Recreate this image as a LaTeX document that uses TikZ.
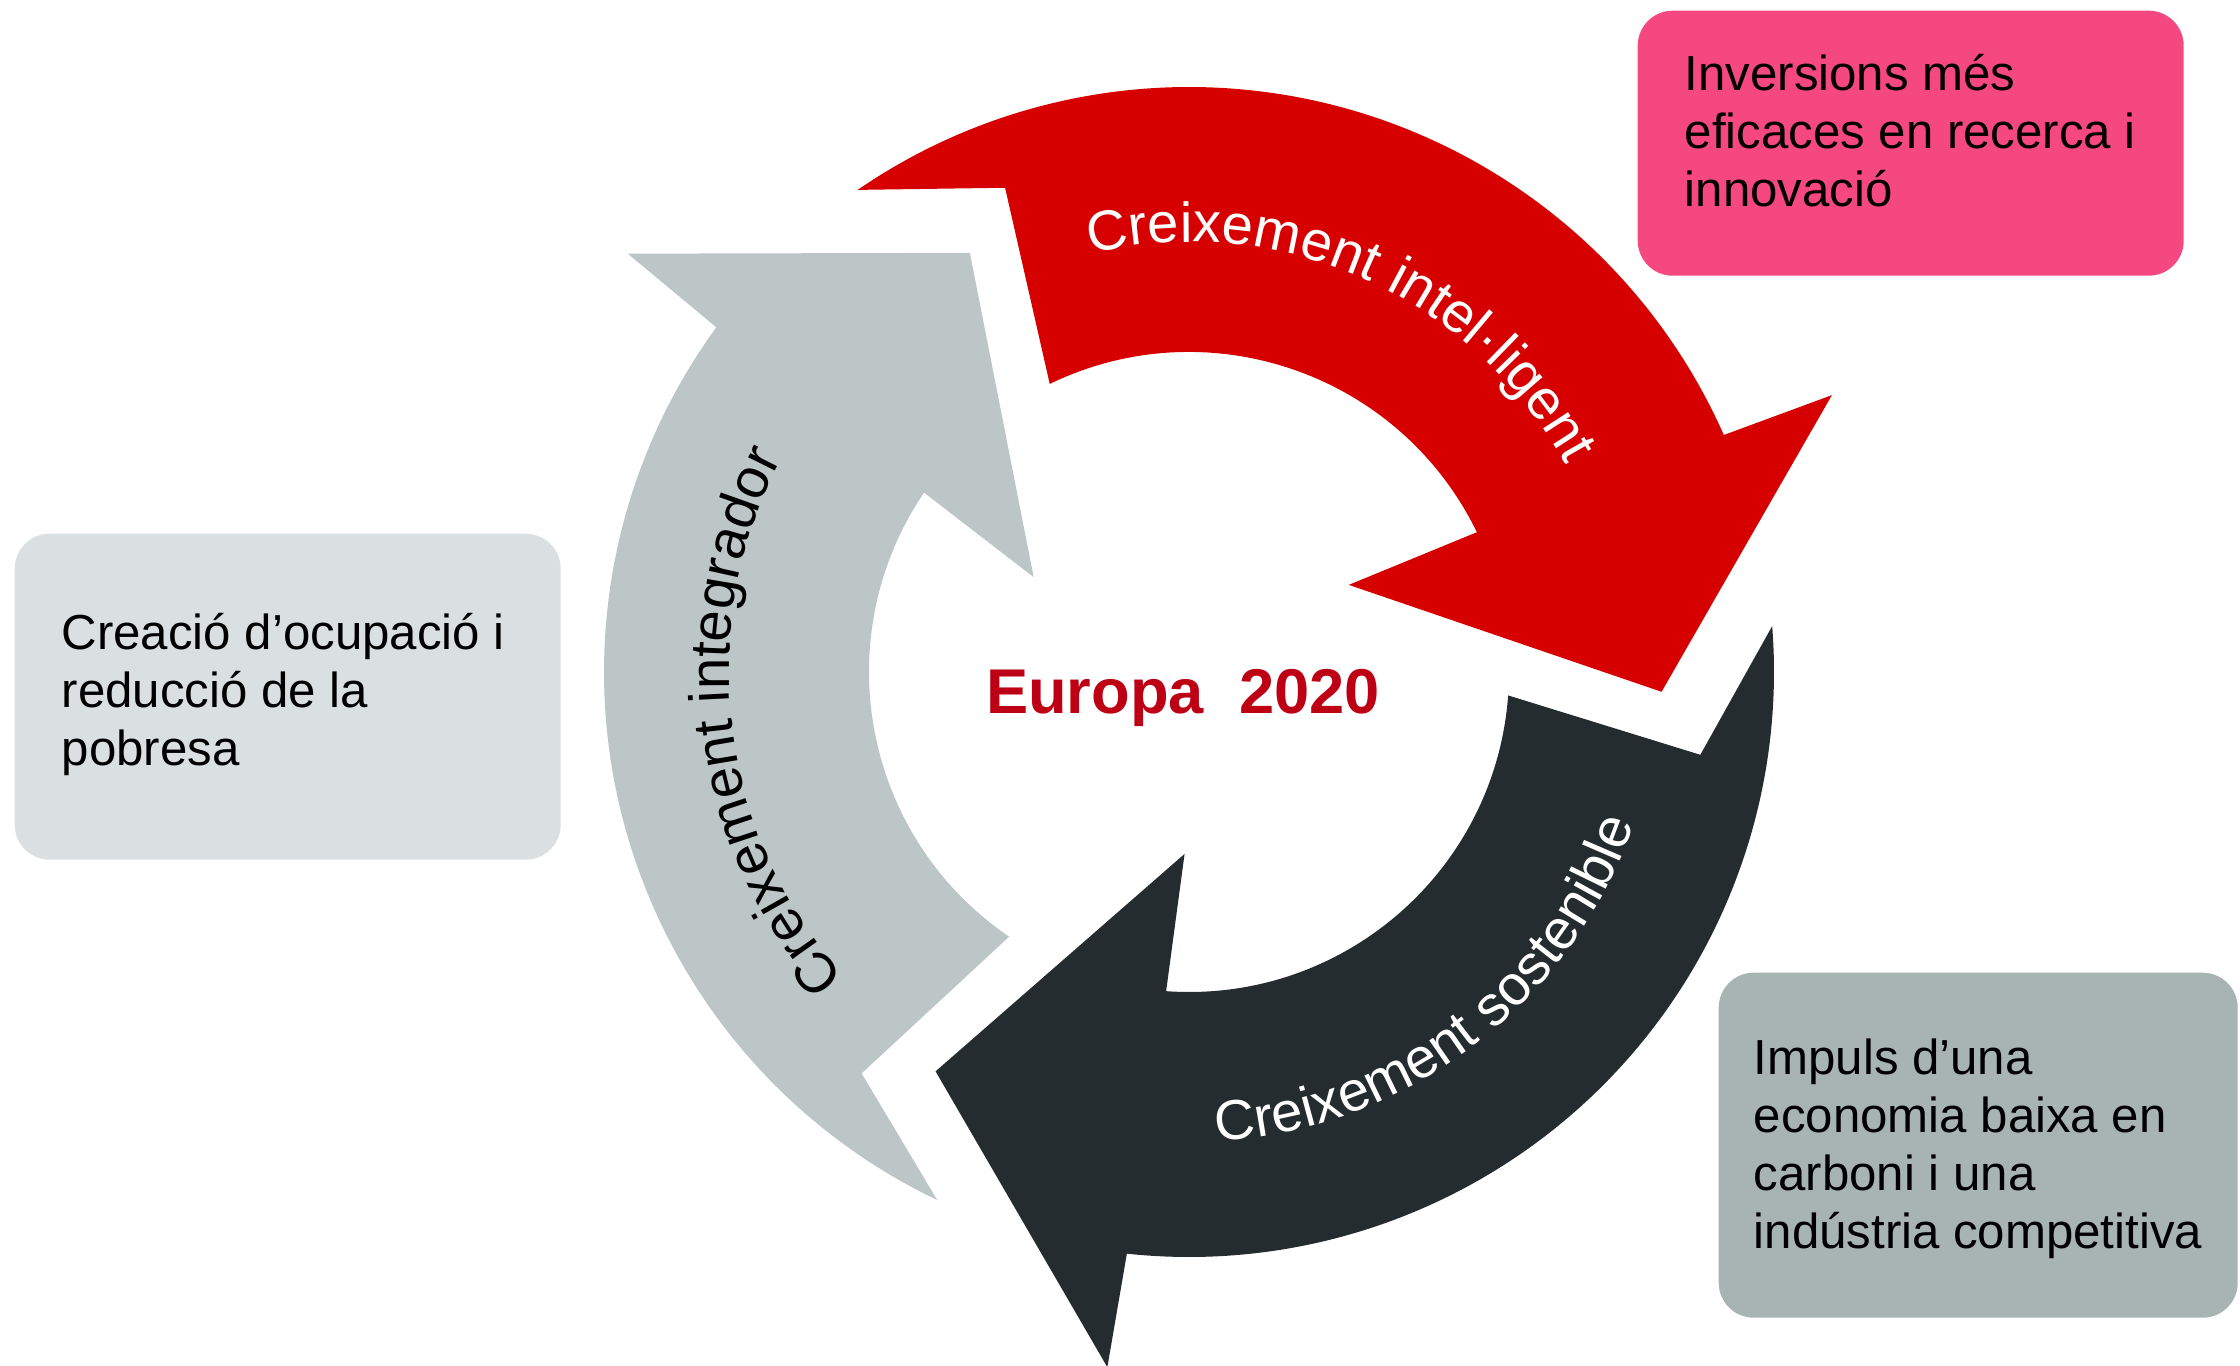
\documentclass[tikz,border=0pt]{standalone}
\usepackage{fontspec}
\setmainfont{Liberation Sans}
\usepackage{tikz}
\usetikzlibrary{positioning,decorations.text}
\definecolor{arrowred}{RGB}{214,0,0}
\definecolor{arrowgray}{RGB}{188,198,198}
\definecolor{arrowdark}{RGB}{36,44,47}
\definecolor{boxpink}{RGB}{246,72,128}
\definecolor{boxlight}{RGB}{218,224,226}
\definecolor{boxgray}{RGB}{168,180,178}
\definecolor{europared}{RGB}{190,0,20}
\newcommand{\arcfont}{\fontsize{16}{18}\selectfont}
\tikzset{
  infobox/.style={anchor=north west, rounded corners=0.35cm, inner sep=0pt},
  infotext/.style={anchor=north west, align=left, inner sep=0pt, font=\fontsize{14}{16.5}\selectfont},
  arclabel/.style={decorate, decoration={text along path, text align=center, text color=#1}}
}

\begin{document}
\begin{tikzpicture}
    \useasboundingbox (0,0) rectangle (22.4,13.65);
    % centre of the ring
    \coordinate (ring) at (11.89,6.93);
    % the three ring arrows
    \begin{scope}[shift={(ring)}]
    \fill[arrowred] (124.5:5.85) -- (110.8:5.18) -- (115.8:3.2) arc[start angle=115.8, end angle=25.9, radius=3.2]
        -- (28.6:1.82) -- (-2.4:4.73) -- (23.3:7) -- (23.9:5.85) arc[start angle=23.9, end angle=124.5, radius=5.85] -- cycle;
    \fill[arrowdark] (4.5:5.85) -- (-9.2:5.18) -- (-4.2:3.2) arc[start angle=-4.2, end angle=-94.1, radius=3.2]
        -- (-91.4:1.82) -- (-122.4:4.73) -- (-96.7:7) -- (-96.1:5.85) arc[start angle=-96.1, end angle=4.5, radius=5.85] -- cycle;
    \fill[arrowgray] (244.5:5.85) -- (230.8:5.18) -- (235.8:3.2) arc[start angle=235.8, end angle=145.9, radius=3.2]
        -- (148.6:1.82) -- (117.6:4.73) -- (143.3:7) -- (143.9:5.85) arc[start angle=143.9, end angle=244.5, radius=5.85] -- cycle;
    % text along the arrows
    \path[arclabel=white, decoration={text={|\arcfont|Creixement intel·ligent}}]
        (146:4.3) arc[start angle=146, end angle=-14, radius=4.3];
    \path[arclabel=black, decoration={text={|\arcfont|Creixement integrador}}]
        (266.9:4.6) arc[start angle=266.9, end angle=106.9, radius=4.6];
    \path[arclabel=white, decoration={text={|\arcfont|Creixement sostenible}}]
        (-132.7:4.7) arc[start angle=-132.7, end angle=27.3, radius=4.7];
    \end{scope}
    % title in the middle
    \node[anchor=base, text=europared, font=\bfseries\fontsize{18}{20}\selectfont] (europa) at (11.83,6.51) {Europa\ \ 2020};
    % the three boxes
    \node[infobox, fill=boxpink, minimum width=5.46cm, minimum height=2.65cm] (recerca) at (16.37,13.55) {};
    \node[infotext] (recercatext) at ([xshift=0.47cm, yshift=-0.44cm]recerca.north west)
        {Inversions més\\eficaces en recerca i\\innovació};
    \node[infobox, fill=boxlight, minimum width=5.46cm, minimum height=3.26cm] (ocupacio) at (0.14,8.32) {};
    \node[infotext] (ocupaciotext) at ([xshift=0.47cm, yshift=-0.80cm]ocupacio.north west)
        {Creació d’ocupació i\\reducció de la\\pobresa};
    \node[infobox, fill=boxgray, minimum width=5.19cm, minimum height=3.45cm] (carboni) at (17.18,3.93) {};
    \node[infotext] (carbonitext) at ([xshift=0.35cm, yshift=-0.665cm]carboni.north west)
        {Impuls d’una\\economia baixa en\\carboni i una\\indústria competitiva};
\end{tikzpicture}
\end{document}
